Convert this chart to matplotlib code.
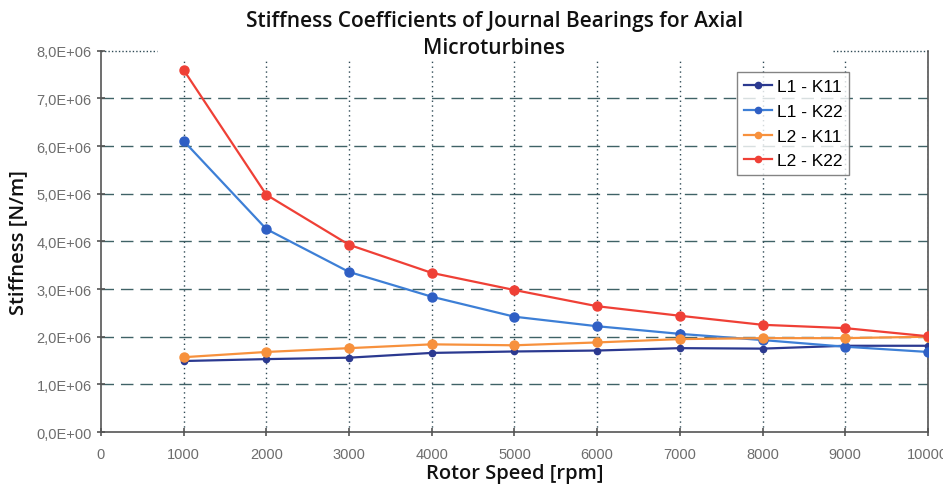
import numpy as np
import matplotlib
matplotlib.use("Agg")
import matplotlib.pyplot as plt
from matplotlib.ticker import FuncFormatter

# ================= DATA =================
speed = [1000, 2000, 3000, 4000, 5000, 6000, 7000, 8000, 9000, 10000]
l1_k11 = [1.49e6, 1.53e6, 1.56e6, 1.66e6, 1.69e6, 1.71e6, 1.76e6, 1.75e6, 1.81e6, 1.81e6]
l1_k22 = [6.11e6, 4.26e6, 3.36e6, 2.84e6, 2.42e6, 2.22e6, 2.06e6, 1.93e6, 1.79e6, 1.68e6]
l2_k11 = [1.57e6, 1.68e6, 1.76e6, 1.84e6, 1.82e6, 1.88e6, 1.95e6, 1.97e6, 1.97e6, 2.00e6]
l2_k22 = [7.60e6, 4.98e6, 3.93e6, 3.34e6, 2.98e6, 2.64e6, 2.44e6, 2.25e6, 2.18e6, 2.01e6]

series = [
    ("L1 - K11", l1_k11, "#2b3990", "#2b3990", 4.5),
    ("L1 - K22", l1_k22, "#3d7fd6", "#2f5fc4", 6.5),
    ("L2 - K11", l2_k11, "#f7913d", "#f7913d", 6.5),
    ("L2 - K22", l2_k22, "#ef4036", "#ef4036", 6.5),
]

# ================= PLOT =================
fig = plt.figure(figsize=(9.43, 4.89), dpi=100)
ax = fig.add_axes([0.107, 0.1145, 0.877, 0.7795])

grid_c = "#3f6266"
for yv in range(1, 8):
    ax.axhline(yv * 1e6, color=grid_c, lw=1.0, ls=(0, (9, 5)), zorder=1)
for xv in speed:
    ax.plot([xv, xv], [0, 7.8e6], color="#2f4a55", lw=1.0, ls=(0, (1, 2.5)), zorder=1)
# top dotted line (only outside the title area)
ax.plot([0, 680], [8e6, 8e6], color="#2f4a55", lw=1.0, ls=(0, (1, 1.5)), zorder=1, clip_on=False)
ax.plot([8850, 10000], [8e6, 8e6], color="#2f4a55", lw=1.0, ls=(0, (1, 1.5)), zorder=1, clip_on=False)

for name, vals, lc, mc, ms in series:
    ax.plot(speed, vals, color=lc, lw=1.6, marker="o", ms=ms, mfc=mc, mec=mc,
            label=name, zorder=3)

ax.set_xlim(0, 10000)
ax.set_ylim(0, 8e6)
ax.set_xticks(range(0, 10001, 1000))
ax.set_yticks(np.arange(0, 8.01e6, 1e6))
ax.yaxis.set_major_formatter(FuncFormatter(
    lambda v, p: ("%.1fE+%02d" % (v / 1e6, 6 if v else 0)).replace(".", ",")))

ax.spines["top"].set_visible(False)
for s in ["left", "bottom", "right"]:
    ax.spines[s].set_color("#555555")
    ax.spines[s].set_linewidth(1.2)

ax.tick_params(axis="both", colors="#555555", labelcolor="#6d6d6d", labelsize=10.5,
               direction="inout", length=6, width=1.2)
for lab in ax.get_xticklabels() + ax.get_yticklabels():
    lab.set_family("Liberation Sans")
ax.tick_params(axis="x", pad=8)

ax.set_xlabel("Rotor Speed [rpm]", fontsize=14.5, fontweight="semibold",
              family="Open Sans", color="#111111", labelpad=1)
ax.set_ylabel("Stiffness [N/m]", fontsize=14.5, fontweight="semibold",
              family="Open Sans", color="#111111", labelpad=6)

fig.text(0.524, 0.928, "Stiffness Coefficients of Journal Bearings for Axial\nMicroturbines",
         ha="center", va="center", fontsize=15, fontweight="semibold",
         family="Open Sans", color="#111111", linespacing=1.4)

leg = ax.legend(loc="upper left", bbox_to_anchor=(0.769, 0.944),
                frameon=True, fancybox=False, borderpad=0.4, handlelength=1.6,
                handletextpad=0.3, labelspacing=0.55, borderaxespad=0,
                prop={"family": "Liberation Sans", "size": 12.5})
leg.get_frame().set_edgecolor("#666666")
leg.get_frame().set_linewidth(1.0)
for h in leg.legend_handles:
    h.set_markersize(4.5)

fig.savefig("out.png", dpi=100, facecolor="white")
